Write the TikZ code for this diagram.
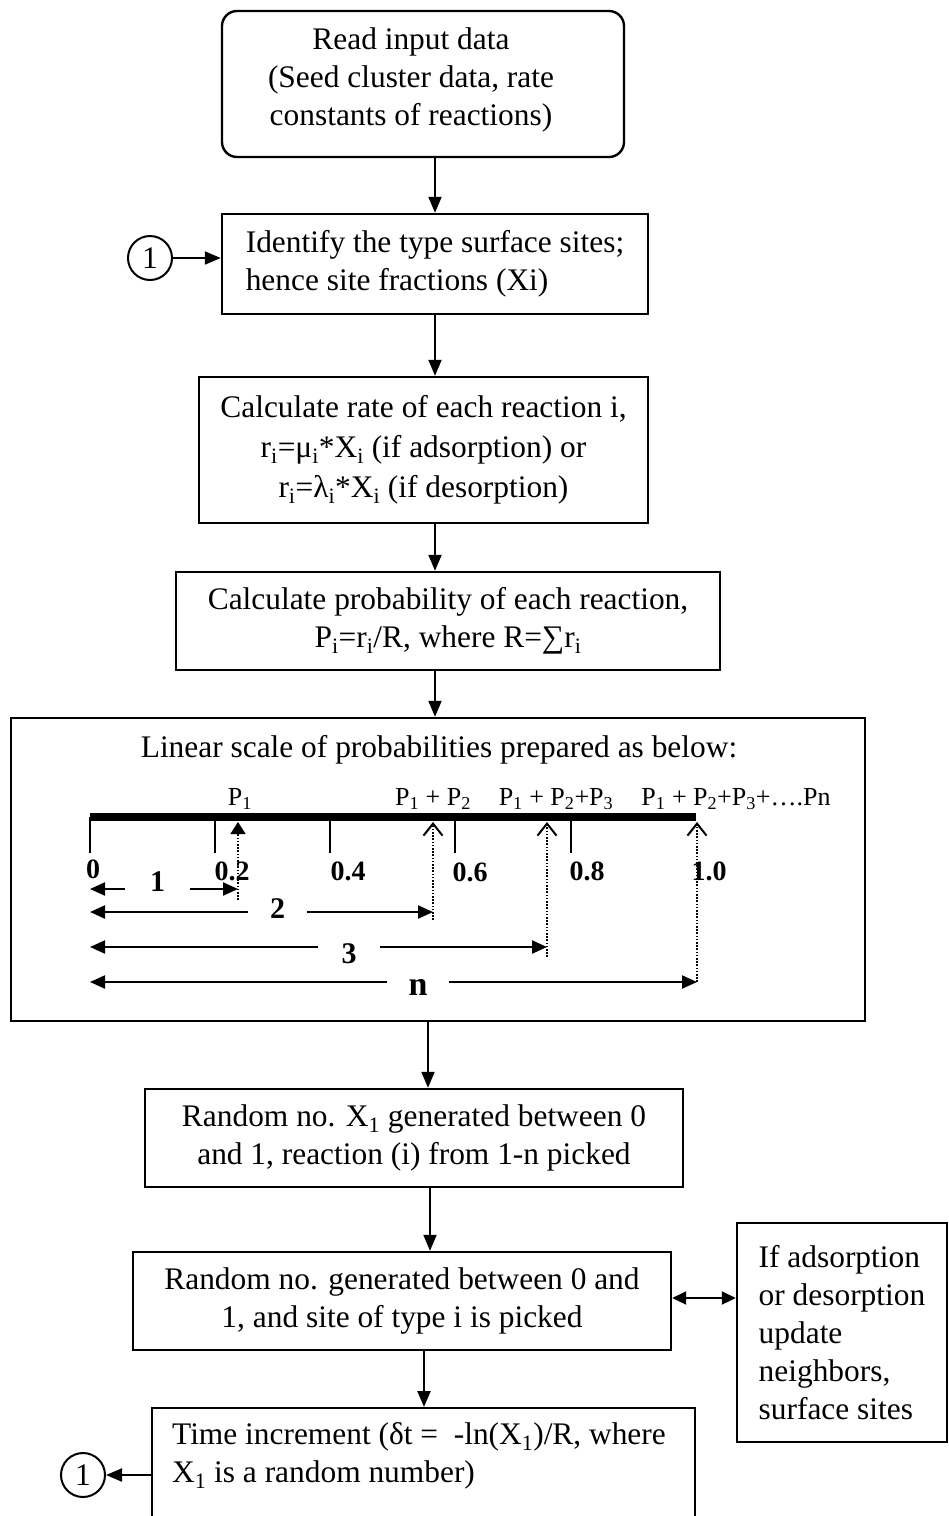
\documentclass[tikz,border=0pt]{standalone}
\usepackage{fontspec}
\setmainfont{Liberation Serif}
\usetikzlibrary{arrows.meta}
\newcommand\bodyfont{\fontsize{31.4}{38}\selectfont}
\newcommand\tagfont{\fontsize{26}{30}\selectfont}
\newcommand\numfont{\fontsize{28}{30}\selectfont\bfseries}
\newcommand\rngfont{\fontsize{30}{32}\selectfont\bfseries}
\newcommand\sbs[1]{\textsubscript{#1}}

\begin{document}
\begin{tikzpicture}[x=1pt,y=-1pt,
  box/.style={draw, line width=2.4pt, inner sep=0pt, font=\bodyfont, align=center},
  txt/.style={inner sep=0pt, font=\bodyfont},
  flow/.style={line width=2pt, -{Triangle[length=16pt,width=13pt]}},
  both/.style={line width=2pt, {Triangle[length=14pt,width=13pt]}-{Triangle[length=14pt,width=13pt]}},
  conn/.style={draw, circle, line width=2pt, minimum size=44pt, inner sep=0pt, font=\bodyfont},
  bar/.style={line width=8pt},
  tick/.style={line width=2pt},
  tag/.style={inner sep=0pt, font=\tagfont},
  num/.style={inner sep=0pt, font=\numfont},
  rng/.style={inner sep=0pt, minimum height=20pt, font=\rngfont},
  rarrow/.style={line width=2.2pt, -{Triangle[length=15pt,width=13pt]}},
  dots/.style={line width=1.4pt, dash pattern=on 1.6pt off 1.6pt},
  solidup/.style={dots, -{Triangle[length=12pt,width=15pt]}},
  openup/.style={dots, -{Straight Barb[length=12pt,width=19pt,line width=2pt]}}
]
\useasboundingbox (0,0) rectangle (949,1516);

% x positions of the vertical connectors
\coordinate (ax1) at (435,0);
\coordinate (ax2) at (428,0);
\coordinate (ax3) at (430,0);
\coordinate (ax4) at (424,0);

% ---------------- flow chart boxes ----------------
\node[box, rounded corners=15pt, minimum width=402pt, minimum height=146pt] (box1) at (423,84) {};
\node[txt, align=center] (t1) at (411,79.5) {Read input data\\(Seed cluster data, rate\\constants of reactions)};

\node[box, align=left, minimum width=426pt, minimum height=100pt] (box2) at (435,264)
  {Identify the type surface sites;\\hence site fractions (Xi)};

\node[box, minimum width=449pt, minimum height=146pt] (box3) at (423.5,450)
  {Calculate rate of each reaction i,\\[2pt]
   r\sbs{i}=μ\sbs{i}*X\sbs{i} (if adsorption) or\\[2pt]
   r\sbs{i}=λ\sbs{i}*X\sbs{i} (if desorption)};

\node[box, minimum width=544pt, minimum height=98pt] (box4) at (448,621)
  {Calculate probability of each reaction,\\P\sbs{i}=r\sbs{i}/R, where R=∑r\sbs{i}};

\node[box, minimum width=854pt, minimum height=303pt] (box5) at (438,869.5) {};

\node[box, minimum width=538pt, minimum height=98pt] (box6) at (414,1138)
  {Random no. X\sbs{1} generated between 0\\and 1, reaction (i) from 1-n picked};

\node[box, minimum width=538pt, minimum height=98pt] (box7) at (402,1301)
  {Random no. generated between 0 and\\1, and site of type i is picked};

\node[box, minimum width=543pt, minimum height=150pt, anchor=north] (box8) at (423.5,1407) {};
\node[txt, align=left] (t8) at (419,1456)
  {Time increment (δt = \ -ln(X\sbs{1})/R, where\\X\sbs{1} is a random number)};

\node[box, align=left, minimum width=210pt, minimum height=219pt] (box9) at (842,1332.5)
  {If adsorption\\or desorption\\update\\neighbors,\\surface sites};

% loop connectors
\node[conn] (c1) at (150,258) {1};
\node[conn] (c2) at (83,1475) {1};

% ---------------- connectors ----------------
\draw[flow] (box1.south -| ax1) -- (box2.north -| ax1);
\draw[flow] (box2.south -| ax1) -- (box3.north -| ax1);
\draw[flow] (box3.south -| ax1) -- (box4.north -| ax1);
\draw[flow] (box4.south -| ax1) -- (box5.north -| ax1);
\draw[flow] (box5.south -| ax2) -- (box6.north -| ax2);
\draw[flow] (box6.south -| ax3) -- (box7.north -| ax3);
\draw[flow] (box7.south -| ax4) -- (box8.north -| ax4);
\draw[flow] (c1.east) -- (c1.east -| box2.west);
\draw[flow] (c2 -| box8.west) -- (c2.east);
\coordinate (dy) at (700,1298);
\draw[both] (dy -| box7.east) -- (dy -| box9.west);

% ---------------- linear probability scale ----------------
\node[txt] (title) at (439,750) {Linear scale of probabilities prepared as below:};

\draw[bar] (90,817) -- (696,817);
\foreach \x in {90,215,330,455,571}
  \draw[tick] (\x,817) -- (\x,853);

\node[tag] (p1) at (240,799) {P\sbs{1}};
\node[tag] (p2) at (433,799) {P\sbs{1} + P\sbs{2}};
\node[tag] (p3) at (556,799) {P\sbs{1} + P\sbs{2}+P\sbs{3}};
\node[tag] (pn) at (736,799) {P\sbs{1} + P\sbs{2}+P\sbs{3}+….Pn};

\node[num] (v0) at (93,869) {0};
\node[num] (v2) at (232,871) {0.2};
\node[num] (v4) at (348,871) {0.4};
\node[num] (v6) at (470,872) {0.6};
\node[num] (v8) at (587,871) {0.8};
\node[num] (v10) at (709,871) {1.0};

% cumulative probability markers
\coordinate (m1) at (238,822);
\coordinate (m2) at (433,822);
\coordinate (m3) at (547,822);
\coordinate (mn) at (697,822);
\draw[solidup] (238,900) -- (m1);
\draw[openup] (433,920) -- (m2);
\draw[openup] (547,957) -- (m3);
\draw[openup] (697,982) -- (mn);

% ranges of the reactions
\node[rng, minimum width=65pt] (r1) at (157.5,882) {1};
\node[rng, minimum width=59pt] (r2) at (277.5,909) {2};
\node[rng, minimum width=62pt] (r3) at (349,954) {3};
\node[rng, minimum width=62pt, font=\fontsize{34}{36}\selectfont\bfseries] (rn) at (418,987) {n};
\coordinate (r1a) at (90,889);  \coordinate (r1b) at (238,889);
\coordinate (r2a) at (90,912);  \coordinate (r2b) at (433,912);
\coordinate (r3a) at (90,947);  \coordinate (r3b) at (547,947);
\coordinate (rna) at (90,982);  \coordinate (rnb) at (697,982);
\draw[rarrow] (r1a -| r1.west) -- (r1a);
\draw[rarrow] (r1b -| r1.east) -- (r1b);
\draw[rarrow] (r2a -| r2.west) -- (r2a);
\draw[rarrow] (r2b -| r2.east) -- (r2b);
\draw[rarrow] (r3a -| r3.west) -- (r3a);
\draw[rarrow] (r3b -| r3.east) -- (r3b);
\draw[rarrow] (rna -| rn.west) -- (rna);
\draw[rarrow] (rnb -| rn.east) -- (rnb);
\end{tikzpicture}
\end{document}
